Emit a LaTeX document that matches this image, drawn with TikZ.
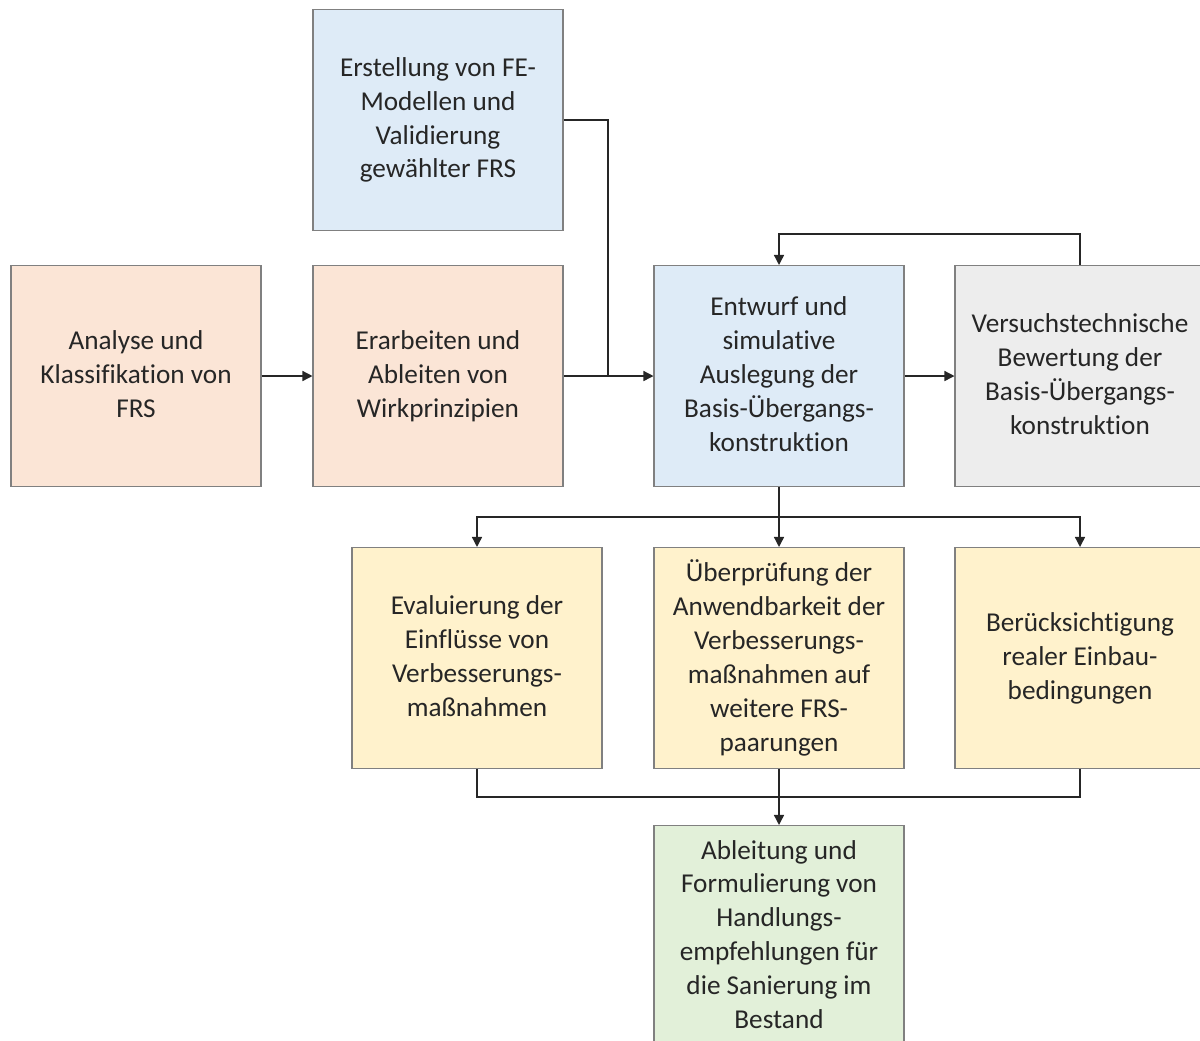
\documentclass[tikz,border=0pt]{standalone}
\usepackage{fontspec}
\setmainfont{Carlito}[Ligatures=NoCommon]
\usetikzlibrary{arrows.meta}

\definecolor{boxpeach}{HTML}{FBE5D6}
\definecolor{boxblue}{HTML}{DEEBF7}
\definecolor{boxgray}{HTML}{EDEDED}
\definecolor{boxyellow}{HTML}{FFF2CC}
\definecolor{boxgreen}{HTML}{E2F0D9}
\definecolor{boxline}{HTML}{808080}
\definecolor{boxtext}{HTML}{262626}

\newcommand\boxstrut{\rule[-1.9pt]{0pt}{17.7pt}}

\tikzset{
  workbox/.style={draw=boxline, line width=0.6pt, minimum width=5cm, minimum height=4.42cm,
    align=center, inner sep=2pt, text=boxtext, font=\fontsize{15.5pt}{19.3pt}\selectfont,
    execute at begin node=\boxstrut, execute at end node=\boxstrut},
  link/.style={line width=0.8pt, black!85},
  linkarrow/.style={link, -{Triangle[length=2mm,width=2mm]}}
}

\begin{document}
\begin{tikzpicture}

\useasboundingbox (0,0) rectangle (24,-20.8);

% Draw the boxes
\node[workbox, fill=boxblue] (erstellung) at (8.76,-2.40) {Erstellung von FE-\\Modellen und\\Validierung\\gewählter FRS};
\node[workbox, fill=boxpeach] (analyse) at (2.72,-7.52) {Analyse und\\Klassifikation von\\FRS};
\node[workbox, fill=boxpeach] (erarbeiten) at (8.76,-7.52) {Erarbeiten und\\Ableiten von\\Wirkprinzipien};
\node[workbox, fill=boxblue] (entwurf) at (15.58,-7.52) {Entwurf und\\simulative\\Auslegung der\\Basis-Übergangs-\\konstruktion};
\node[workbox, fill=boxgray] (versuch) at (21.60,-7.52) {Versuchstechnische\\Bewertung der\\Basis-Übergangs-\\konstruktion};
\node[workbox, fill=boxyellow] (evaluierung) at (9.54,-13.16) {Evaluierung der\\Einflüsse von\\Verbesserungs-\\maßnahmen};
\node[workbox, fill=boxyellow] (ueberpruefung) at (15.58,-13.16) {Überprüfung der\\Anwendbarkeit der\\Verbesserungs-\\maßnahmen auf\\weitere FRS-\\paarungen};
\node[workbox, fill=boxyellow] (beruecksichtigung) at (21.60,-13.16) {Berücksichtigung\\realer Einbau-\\bedingungen};
\node[workbox, fill=boxgreen] (ableitung) at (15.58,-18.72) {Ableitung und\\Formulierung von\\Handlungs-\\empfehlungen für\\die Sanierung im\\Bestand};

% Junction points
\coordinate (join) at (12.16,-7.52);
\coordinate (split) at (15.58,-10.34);
\coordinate (merge) at (15.58,-15.94);

% Draw the upper connectors
\draw[linkarrow] (analyse) -- (erarbeiten);
\draw[linkarrow] (erarbeiten) -- (entwurf);
\draw[link] (erstellung.east) -| (join);
\draw[linkarrow] (entwurf) -- (versuch);
\draw[linkarrow] (versuch.north) -- ++(0,0.62) -| (entwurf.north);

% Draw the branches
\draw[link] (entwurf.south) -- (split);
\draw[linkarrow] (split) -| (evaluierung.north);
\draw[linkarrow] (split) -- (ueberpruefung.north);
\draw[linkarrow] (split) -| (beruecksichtigung.north);

% Draw the merge
\draw[link] (evaluierung.south) |- (merge);
\draw[link] (beruecksichtigung.south) |- (merge);
\draw[linkarrow] (ueberpruefung.south) -- (ableitung.north);

\end{tikzpicture}
\end{document}
